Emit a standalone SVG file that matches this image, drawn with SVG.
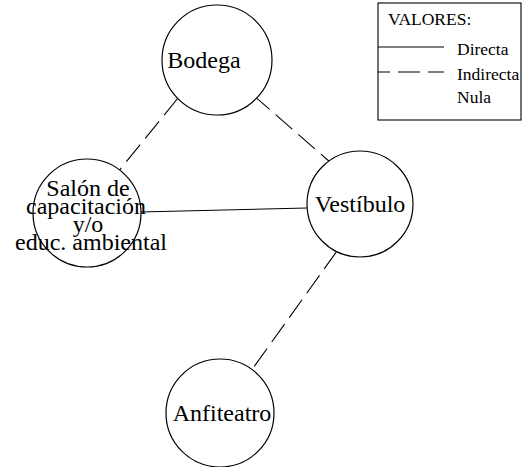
<svg xmlns="http://www.w3.org/2000/svg" width="524" height="467" viewBox="0 0 524 467">
<style>
.n{fill:#fff;stroke:#000;stroke-width:1.2}
.t{font-family:"Liberation Serif","Times New Roman",serif;font-size:24px;fill:#000;text-anchor:middle}
.l{font-family:"Liberation Serif","Times New Roman",serif;font-size:17.5px;fill:#000}
.c{stroke:#000;stroke-width:1.1;fill:none}
.d{stroke-dasharray:22 8}
</style>
<rect width="524" height="467" fill="#fff"/>
<g id="connectors">
<line class="c d" x1="178" y1="98" x2="118" y2="172"/>
<line class="c d" x1="253" y1="95" x2="330" y2="162"/>
<line class="c" x1="140" y1="212" x2="307" y2="208"/>
<line class="c d" x1="337" y1="251" x2="251" y2="371"/>
</g>
<g id="bodega">
<circle class="n" cx="217" cy="60" r="55"/>
<text class="t" x="204" y="68">Bodega</text>
</g>
<g id="salon">
<circle class="n" cx="87" cy="213" r="54"/>
<text class="t" x="88" y="196">Salón de</text>
<text class="t" x="86" y="214">capacitación</text>
<text class="t" x="88" y="232">y/o</text>
<text class="t" x="91" y="250">educ. ambiental</text>
</g>
<g id="vestibulo">
<circle class="n" cx="360" cy="204" r="53"/>
<text class="t" x="360" y="212">Vestíbulo</text>
</g>
<g id="anfiteatro">
<circle class="n" cx="220" cy="413" r="54"/>
<text class="t" x="222" y="421">Anfiteatro</text>
</g>
<g id="legend">
<rect x="378" y="3" width="143" height="117" fill="#fff" stroke="#000" stroke-width="1.1"/>
<text class="l" x="388" y="25">VALORES:</text>
<line class="c" x1="378" y1="47" x2="444" y2="47"/>
<text class="l" x="457" y="55">Directa</text>
<line class="c" x1="378" y1="72" x2="444" y2="72" stroke-dasharray="22 8" stroke-dashoffset="10"/>
<text class="l" x="457" y="80">Indirecta</text>
<text class="l" x="457" y="103">Nula</text>
</g>
</svg>
